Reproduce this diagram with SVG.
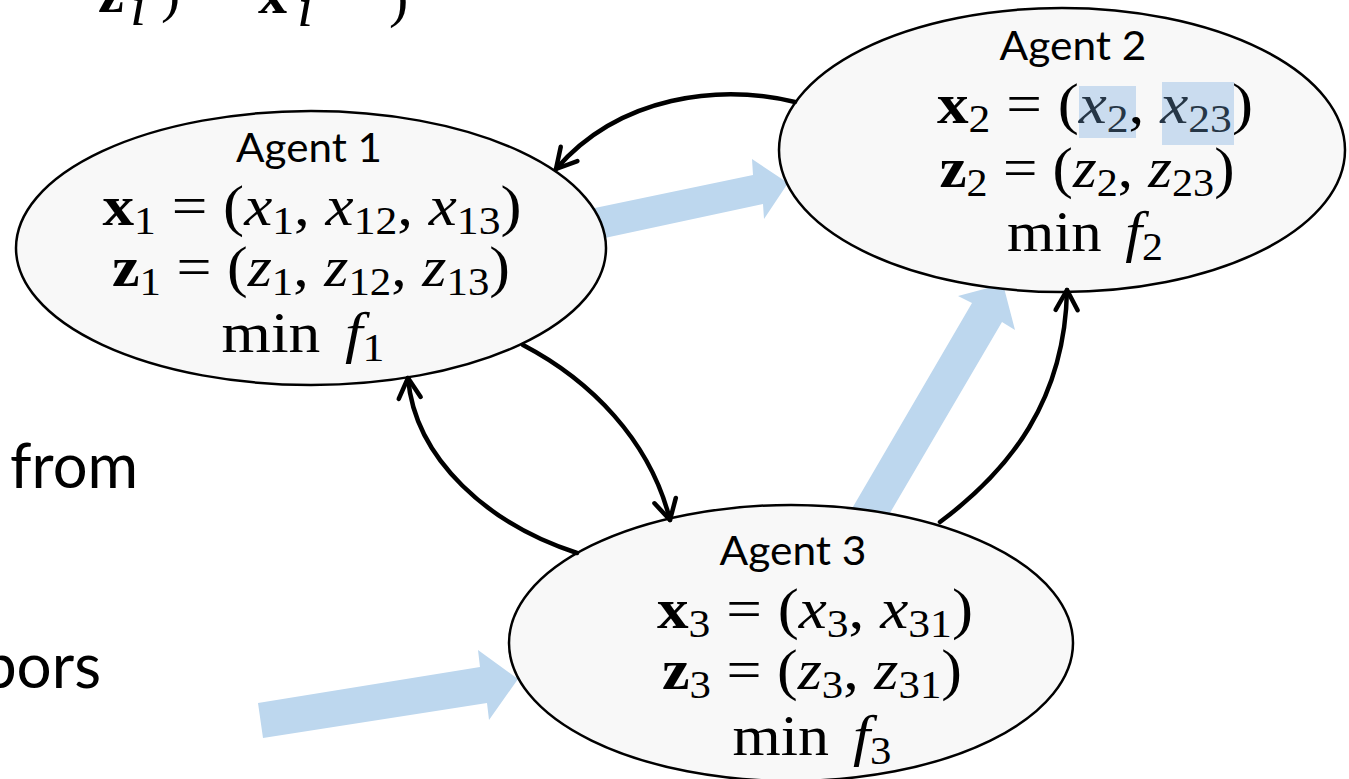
<svg xmlns="http://www.w3.org/2000/svg" width="1349" height="779" viewBox="0 0 1349 779">
<defs>
<style>
.node ellipse{fill:#f8f8f8;stroke:#000;stroke-width:2.5}
.lbl{font-family:Lato,"Liberation Sans",sans-serif;font-size:41px;fill:#000;text-anchor:middle}
.m{font-family:"Liberation Serif",serif;font-size:58px;fill:#000;text-anchor:middle}
.mf{font-family:"Liberation Serif",serif;font-size:58px;fill:#000}
.b{font-weight:bold}
.i{font-style:italic}
.s{font-size:40px;font-style:normal}
.hl{fill:#263646}
.hbox{fill:#cadcef}
#connectors path{fill:none;stroke:#000;stroke-width:4.5;stroke-linecap:round}
.blue{fill:#bdd7ee}
.side{font-family:Lato,"Liberation Sans",sans-serif;font-size:62px;fill:#000}
</style>
<marker id="ah" markerUnits="userSpaceOnUse" markerWidth="40" markerHeight="40" viewBox="-25 -20 40 40" refX="0" refY="0" orient="auto">
<path d="M-20,-11 L0,0 L-20,11" fill="none" stroke="#000" stroke-width="4.5" stroke-linecap="round" stroke-linejoin="round"/>
</marker>
</defs>
<rect width="1349" height="779" fill="#fff"/>

<!-- cut-off slide fragments -->
<g id="fragments">
<text class="mf" x="98" y="12"><tspan class="b">z</tspan></text>
<text class="mf" x="130" y="25" font-size="40" font-style="italic">i</text>
<text class="mf" x="161" y="11">)</text>
<text class="mf" x="258" y="13"><tspan class="b">x</tspan></text>
<text class="mf" x="297" y="26" font-size="40" font-style="italic">i</text>
<text class="mf" x="389" y="16" font-size="70">)</text>
<text class="side" x="10" y="488" textLength="128" lengthAdjust="spacingAndGlyphs">from</text>
<text class="side" x="101" y="688" text-anchor="end">bors</text>
</g>

<!-- blue flow arrows -->
<g id="flows">
<polygon class="blue" points="590,209 753,175 752,159 788,183 764,219 763,204 600,239"/>
<polygon class="blue" points="850,512 972,303 958,296 1003,284 1015,330 1002,322 880,530"/>
<polygon class="blue" points="258,703 480,667 478,650 518,679 489,720 487,703 263,738"/>
</g>

<g id="agent1" class="node">
<ellipse cx="311" cy="248" rx="295" ry="137"/>
<text class="lbl" x="309" y="162" textLength="146" lengthAdjust="spacingAndGlyphs">Agent 1</text>
<text class="m" x="312" y="225" textLength="419" lengthAdjust="spacingAndGlyphs"><tspan class="b">x</tspan><tspan class="s" dy="9">1</tspan><tspan dy="-9"> = (</tspan><tspan class="i">x</tspan><tspan class="s" dy="9">1</tspan><tspan dy="-9">, </tspan><tspan class="i">x</tspan><tspan class="s" dy="9">12</tspan><tspan dy="-9">, </tspan><tspan class="i">x</tspan><tspan class="s" dy="9">13</tspan><tspan dy="-9">)</tspan></text>
<text class="m" x="311" y="286" textLength="398" lengthAdjust="spacingAndGlyphs"><tspan class="b">z</tspan><tspan class="s" dy="9">1</tspan><tspan dy="-9"> = (</tspan><tspan class="i">z</tspan><tspan class="s" dy="9">1</tspan><tspan dy="-9">, </tspan><tspan class="i">z</tspan><tspan class="s" dy="9">12</tspan><tspan dy="-9">, </tspan><tspan class="i">z</tspan><tspan class="s" dy="9">13</tspan><tspan dy="-9">)</tspan></text>
<text class="m" x="303" y="352" textLength="163" lengthAdjust="spacingAndGlyphs"><tspan>min </tspan><tspan class="i" dx="8">f</tspan><tspan class="s" dy="9">1</tspan></text>
</g>

<g id="agent2" class="node">
<ellipse cx="1062" cy="150" rx="283" ry="142"/>
<rect class="hbox" x="1079" y="86" width="57" height="52"/>
<rect class="hbox" x="1162" y="82" width="72" height="63"/>
<text class="lbl" x="1073" y="60" textLength="147" lengthAdjust="spacingAndGlyphs">Agent 2</text>
<text class="m" x="1095" y="123" textLength="316" lengthAdjust="spacingAndGlyphs"><tspan class="b">x</tspan><tspan class="s" dy="9">2</tspan><tspan dy="-9"> = (</tspan><tspan class="i hl">x</tspan><tspan class="s hl" dy="9">2</tspan><tspan dy="-9">, </tspan><tspan class="i hl">x</tspan><tspan class="s hl" dy="9">23</tspan><tspan dy="-9">)</tspan></text>
<text class="m" x="1087" y="187" textLength="295" lengthAdjust="spacingAndGlyphs"><tspan class="b">z</tspan><tspan class="s" dy="9">2</tspan><tspan dy="-9"> = (</tspan><tspan class="i">z</tspan><tspan class="s" dy="9">2</tspan><tspan dy="-9">, </tspan><tspan class="i">z</tspan><tspan class="s" dy="9">23</tspan><tspan dy="-9">)</tspan></text>
<text class="m" x="1085" y="251" textLength="156" lengthAdjust="spacingAndGlyphs"><tspan>min </tspan><tspan class="i" dx="8">f</tspan><tspan class="s" dy="9">2</tspan></text>
</g>

<g id="agent3" class="node">
<ellipse cx="791" cy="643" rx="282" ry="138"/>
<text class="lbl" x="793" y="565" textLength="147" lengthAdjust="spacingAndGlyphs">Agent 3</text>
<text class="m" x="815" y="628" textLength="316" lengthAdjust="spacingAndGlyphs"><tspan class="b">x</tspan><tspan class="s" dy="9">3</tspan><tspan dy="-9"> = (</tspan><tspan class="i">x</tspan><tspan class="s" dy="9">3</tspan><tspan dy="-9">, </tspan><tspan class="i">x</tspan><tspan class="s" dy="9">31</tspan><tspan dy="-9">)</tspan></text>
<text class="m" x="812" y="689" textLength="300" lengthAdjust="spacingAndGlyphs"><tspan class="b">z</tspan><tspan class="s" dy="9">3</tspan><tspan dy="-9"> = (</tspan><tspan class="i">z</tspan><tspan class="s" dy="9">3</tspan><tspan dy="-9">, </tspan><tspan class="i">z</tspan><tspan class="s" dy="9">31</tspan><tspan dy="-9">)</tspan></text>
<text class="m" x="812" y="755" textLength="159" lengthAdjust="spacingAndGlyphs"><tspan>min </tspan><tspan class="i" dx="8">f</tspan><tspan class="s" dy="9">3</tspan></text>
</g>

<g id="connectors">
<path d="M795,102 C720,84 620,95 556,169" marker-end="url(#ah)"/>
<path d="M523,345 C590,380 650,440 670,520" marker-end="url(#ah)"/>
<path d="M577,553 C490,525 415,460 408,378" marker-end="url(#ah)"/>
<path d="M940,522 C1010,470 1065,400 1067,290" marker-end="url(#ah)"/>
</g>
</svg>
